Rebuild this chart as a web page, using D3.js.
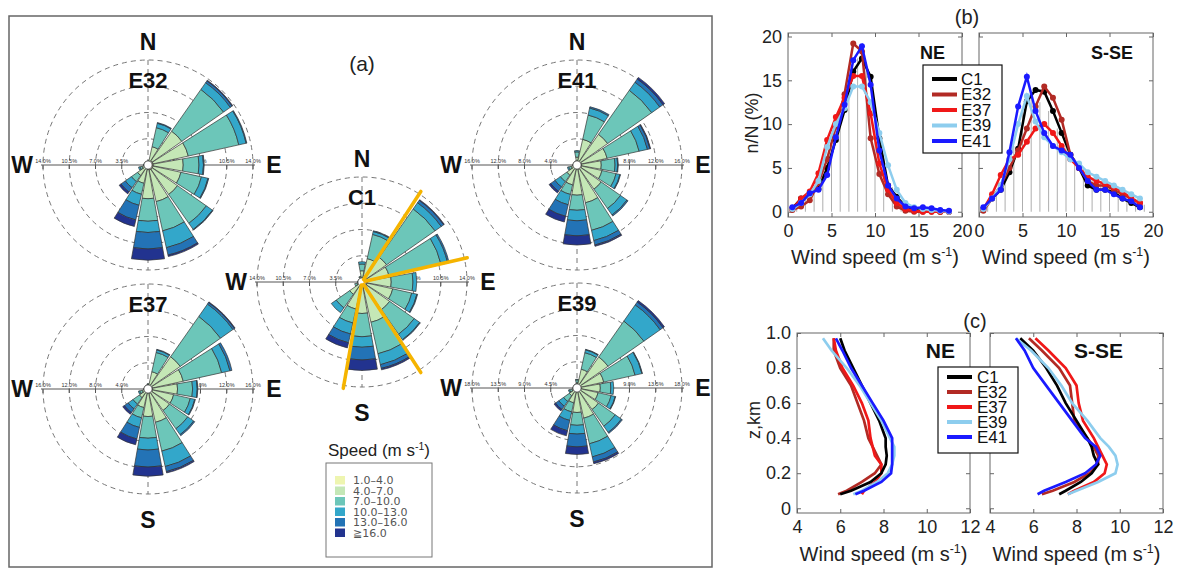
<!DOCTYPE html>
<html>
<head>
<meta charset="utf-8">
<script src="https://cdn.jsdelivr.net/npm/d3@7"></script>
<style>
  body { margin: 0; background: #fff; }
  svg { display: block; font-family: "Liberation Sans", Arial, Helvetica, sans-serif; }
</style>
</head>
<body>
<svg id="fig" width="1179" height="569"></svg>
<script>
// ---- data: wind roses (a) ----
// 16 directions, each one is [1-4, 4-7, 7-10, 10-13, 13-16, >=16] in %
var dirAngles = [0, 22.5, 45, 67.5, 90, 112.5, 135, 157.5, 180, 202.5, 225, 247.5, 270, 292.5, 315, 337.5];
var speedBins = ['1.0\u20134.0', '4.0\u20137.0', '7.0\u201310.0', '10.0\u201313.0', '13.0\u201316.0', '\u226716.0'];
var binColors = ['#eef5b0', '#c4e7b6', '#6cc6b9', '#33a7ca', '#2373b6', '#22338f'];

var roseC1 = [
  [0.5,1.0,0.9,0.3,0,0], [0.6,2.6,3.3,0.4,0.1,0], [0.7,3.3,7.9,1.0,0.4,0.1], [0.7,3.0,7.1,0.9,0.2,0],
  [0.7,3.2,2.9,0.5,0,0], [0.7,3.5,2.6,0.7,0.1,0], [0.7,3.8,4.0,0.9,0.1,0], [0.7,4.8,4.3,1.5,0.5,0.2],
  [0.6,3.6,3.1,1.4,1.7,1.4], [0.5,3.2,1.9,1.5,1.2,0.7], [0.4,1.6,2.2,0.8,0,0], [0.3,0.4,0.3,0,0,0],
  [0.2,0.3,0.1,0,0,0], [0.2,0.2,0,0,0,0], [0.2,0.2,0.1,0,0,0], [0.3,0.4,0.1,0,0,0]
];
var roseE32 = [
  [0.2,0.3,0,0,0,0], [0.5,2.0,2.6,0.6,0.1,0], [0.7,4.8,6.8,1.1,0.3,0.1], [0.7,4.8,6.9,1.0,0.1,0],
  [0.7,4.0,2.1,0.6,0.1,0], [0.7,3.8,2.8,0.9,0.1,0], [0.7,4.1,4.7,1.0,0.1,0], [0.7,4.3,4.0,2.3,1.0,0.2],
  [0.6,3.9,3.0,1.5,2.2,1.5], [0.5,2.0,1.5,1.5,2.0,0.9], [0.4,1.3,1.0,1.0,0.7,0.3], [0.3,0.5,0.3,0.2,0,0],
  [0.2,0.3,0.1,0,0,0], [0.1,0.1,0,0,0,0], [0.1,0.1,0,0,0,0], [0.1,0.2,0,0,0,0]
];
var roseE37 = [
  [0.3,0.4,0.1,0,0,0], [0.5,2.2,3.0,0.4,0.1,0], [0.7,5.3,7.5,2.3,0.3,0.1], [0.7,4.8,6.0,1.3,0.3,0],
  [0.7,3.8,2.3,0.7,0.1,0], [0.7,3.3,2.6,0.7,0.1,0], [0.7,3.3,3.4,1.1,0.2,0], [0.7,4.5,4.5,2.4,0.8,0.2],
  [0.6,3.6,3.3,1.8,2.6,1.4], [0.5,2.4,1.6,1.5,1.8,0.9], [0.4,1.2,1.2,0.9,0.7,0.3], [0.3,0.6,0.4,0.2,0,0],
  [0.2,0.3,0.1,0,0,0], [0.1,0.1,0,0,0,0], [0.1,0.1,0,0,0,0], [0.1,0.2,0.1,0,0,0]
];
var roseE41 = [
  [0.4,0.8,0.8,0.2,0,0], [0.6,3.4,3.8,1.1,0.2,0], [0.7,5.0,8.2,1.5,0.6,0.3], [0.7,4.0,5.0,1.3,0.4,0.1],
  [0.7,3.0,2.1,0.4,0.1,0], [0.7,3.2,2.2,0.6,0.1,0], [0.7,3.8,3.6,1.2,0.2,0], [0.7,5.2,4.3,1.6,0.7,0.2],
  [0.6,4.0,2.3,1.6,2.3,1.4], [0.5,2.6,1.5,1.6,1.8,0.9], [0.4,1.5,1.2,1.0,0.8,0.3], [0.3,0.6,0.4,0.2,0,0],
  [0.2,0.3,0.1,0,0,0], [0.1,0.2,0,0,0,0], [0.1,0.2,0,0,0,0], [0.2,0.3,0.1,0,0,0]
];
var roseE39 = [
  [0.3,0.6,0.5,0.1,0,0], [0.5,2.8,2.9,0.5,0.1,0], [0.7,5.8,7.5,3.4,0.6,0.3], [0.7,4.0,5.5,1.2,0.1,0],
  [0.7,3.3,1.8,0.5,0,0], [0.7,3.0,2.3,0.7,0.1,0], [0.7,3.8,3.5,1.3,0.2,0], [0.7,4.6,4.5,2.3,0.9,0.3],
  [0.6,3.6,2.2,1.5,2.2,1.3], [0.5,2.1,1.6,1.5,1.8,0.9], [0.4,1.2,1.2,1.0,0.7,0.3], [0.3,0.6,0.4,0.2,0,0],
  [0.2,0.3,0.1,0,0,0], [0.1,0.1,0,0,0,0], [0.1,0.1,0,0,0,0], [0.2,0.3,0.1,0,0,0]
];
var ringsC1 = [3.5, 7.0, 10.5, 14.0];
var ringsE32 = [3.5, 7.0, 10.5, 14.0];
var ringsE37 = [4.0, 8.0, 12.0, 16.0];
var ringsE41 = [4.0, 8.0, 12.0, 16.0];
var ringsE39 = [4.5, 9.0, 13.5, 18.0];
var sectorEdges = [33, 77, 147, 190]; // NE and S-SE sectors marked on C1

// ---- data: (b) speed distributions ----
var speedMid = [0.5,1.5,2.5,3.5,4.5,5.5,6.5,7.5,8.5,9.5,10.5,11.5,12.5,13.5,14.5,15.5,16.5,17.5,18.5];
var histX = [1,2,3,4,5,6,7,8,9,10,11,12,13,14,15,16,17,18,19];
var histNE = [0.8,1.8,2.5,4.5,7.5,11,14.5,17.5,16.5,11.5,5.5,2.8,1.2,0.5,0.4,0.3,0.2,0.1,0];
var histSE = [0.8,2,4,7.5,11.5,13.5,12.5,11.5,9.5,7.5,6,5,3.8,3.3,3,2.5,2,1.5,0.8];

var neC1  = [0.4,1.5,2.1,2.6,5.0,8.2,11.6,16.0,17.5,15.4,8.4,3.0,1.7,0.6,0.3,0.1,0.1,0,0];
var neE32 = [0.2,0.6,1.3,3.3,6.0,9.7,13.4,19.2,18.3,8.4,4.3,2.0,0.6,0.1,0,0,0,0,0];
var neE37 = [0.3,1.5,2.3,4.4,8.2,10.8,13.0,15.5,15.5,11.2,5.5,2.5,1.0,0.3,0.1,0,0,0,0];
var neE39 = [0.3,1.0,2.0,3.5,7.4,10.0,11.8,14.3,14.3,12.5,9.0,5.3,2.5,1.0,0.5,0.3,0.2,0.1,0];
var neE41 = [0.5,1.0,2.1,2.5,4.2,8.5,12.2,17.3,18.9,14.5,7.0,3.0,1.5,0.6,0.4,0.5,0.4,0.2,0.1];

var seC1  = [0.3,1.5,2.5,4.5,7.2,12.6,13.9,13.7,11.5,9.0,6.5,5.0,3.0,2.5,2.5,2.2,1.5,1.0,0.5];
var seE32 = [0.1,1.5,3.0,5.0,7.0,9.5,12.0,14.3,13.0,10.5,6.5,5.0,3.5,3.0,3.0,2.5,2.0,1.5,1.0];
var seE37 = [0.3,2.0,4.2,6.0,6.5,8.0,9.5,10.0,9.0,7.5,6.0,5.0,4.0,3.5,3.2,2.8,2.3,1.5,1.0];
var seE39 = [0.3,1.5,3.0,6.0,10.0,13.2,10.3,8.5,7.5,6.8,6.0,5.5,4.5,4.0,3.5,3.0,2.5,2.0,1.5];
var seE41 = [0.5,1.5,2.5,6.8,12.0,15.4,11.5,9.0,7.5,7.0,6.5,5.0,3.5,2.5,2.5,2.0,1.5,1.2,0.5];

// ---- data: (c) wind profiles ----
var zLevels = [0.08,0.1,0.15,0.2,0.25,0.3,0.35,0.4,0.5,0.6,0.7,0.8,0.9,0.97];
var pNeC1  = [6.0,6.5,7.4,7.9,8.1,8.15,8.1,8.1,7.8,7.4,7.0,6.6,6.2,6.0];
var pNeE32 = [5.9,6.3,7.0,7.6,7.9,7.7,7.5,7.3,7.1,6.8,6.5,6.0,5.7,5.7];
var pNeE37 = [7.0,7.1,7.6,7.9,7.9,7.6,7.5,7.4,7.3,7.0,6.6,6.1,5.8,5.7];
var pNeE39 = [6.6,7.0,7.7,8.2,8.4,8.5,8.5,8.3,7.9,7.4,6.9,6.3,5.6,5.2];
var pNeE41 = [6.7,7.1,7.9,8.35,8.4,8.4,8.4,8.4,8.0,7.5,7.0,6.5,6.1,5.8];

var pSeC1  = [7.2,7.5,8.2,8.7,9.0,8.8,8.7,8.5,8.0,7.5,7.1,6.6,6.0,5.4];
var pSeE32 = [6.4,6.9,7.9,8.6,9.0,9.0,8.8,8.5,7.9,7.8,7.7,7.2,6.4,5.8];
var pSeE37 = [7.6,7.9,8.8,9.3,9.4,9.2,9.0,8.8,8.3,8.1,8.0,7.5,6.7,6.1];
var pSeE39 = [7.6,8.0,9.0,9.8,9.9,9.8,9.5,9.1,8.5,7.8,7.3,6.7,5.9,5.2];
var pSeE41 = [6.2,6.5,7.5,8.4,8.9,9.1,8.9,8.4,7.8,7.2,6.6,6.0,5.6,5.2];

var stations = ['C1', 'E32', 'E37', 'E39', 'E41'];
var stationColors = ['#000000', '#b22a24', '#f01818', '#8dcdee', '#1a1aff'];

var svg = d3.select('#fig');
var R = 105; // outer ring radius of the roses

// helper: "... (m s-1)" with superscript
function unitText(sel, x, y, prefix, size, anchor) {
  var t = sel.append('text').attr('x', x).attr('y', y)
    .attr('text-anchor', anchor || 'middle').attr('font-size', size).attr('fill', '#222');
  t.append('tspan').text(prefix + ' (m s');
  t.append('tspan').attr('dy', -size * 0.38).attr('font-size', size * 0.62).text('-1');
  t.append('tspan').attr('dy', size * 0.38).text(')');
  return t;
}

// ---- panel (a) ----
svg.append('rect').attr('x', 9).attr('y', 16).attr('width', 703).attr('height', 551)
  .attr('fill', 'none').attr('stroke', '#666').attr('stroke-width', 1.5);

function drawRose(cx, cy, data, rings, name, marks) {
  var g = svg.append('g').attr('transform', 'translate(' + cx + ',' + cy + ')'),
      maxPct = rings[rings.length - 1],
      r = d3.scaleLinear().domain([0, maxPct]).range([0, R]),
      arc = d3.arc();

  // dashed rings + north-south line
  g.selectAll('circle.ring').data(rings).enter().append('circle')
    .attr('class', 'ring').attr('r', function(d) { return r(d); })
    .attr('fill', 'none').attr('stroke', '#777').attr('stroke-dasharray', '5,4');
  g.append('line').attr('x1', 0).attr('x2', 0).attr('y1', -R).attr('y2', R)
    .attr('stroke', '#777').attr('stroke-dasharray', '5,4');

  // horizontal axis with % labels
  g.append('line').attr('x1', -R - 2).attr('x2', R + 2).attr('y1', 0).attr('y2', 0)
    .attr('stroke', '#555').attr('stroke-width', 1);
  [-1, 1].forEach(function(side) {
    g.selectAll(null).data(rings).enter().append('line')
      .attr('x1', function(d) { return side * r(d); }).attr('x2', function(d) { return side * r(d); })
      .attr('y1', 0).attr('y2', 4).attr('stroke', '#555');
    g.selectAll(null).data(rings).enter().append('text')
      .attr('x', function(d) { return side * r(d); }).attr('y', -2)
      .attr('text-anchor', 'middle').attr('font-size', 5.5).attr('fill', '#333')
      .text(function(d) { return d.toFixed(1) + '%'; });
  });

  // stacked sectors
  data.forEach(function(bins, i) {
    var a = dirAngles[i] * Math.PI / 180, cum = 0;
    bins.forEach(function(v, b) {
      if (!v) return;
      var inner = Math.max(r(cum), 4);
      cum += v;
      g.append('path')
        .attr('d', arc({ innerRadius: inner, outerRadius: r(cum),
                         startAngle: a - 10 * Math.PI / 180, endAngle: a + 10 * Math.PI / 180 }))
        .attr('fill', binColors[b]).attr('stroke', '#333').attr('stroke-width', 0.7);
    });
  });
  g.append('circle').attr('r', 4).attr('fill', '#fff').attr('stroke', '#555').attr('stroke-width', 0.6);

  // compass letters + station name
  var big = function(x, y, t) {
    g.append('text').attr('x', x).attr('y', y).attr('text-anchor', 'middle')
      .attr('dominant-baseline', 'central').attr('font-size', 23).attr('font-weight', 'bold')
      .attr('fill', '#111').text(t);
  };
  if (marks.indexOf('N') >= 0) big(0, -123, 'N');
  if (marks.indexOf('S') >= 0) big(0, 131, 'S');
  big(-126, 0, 'W');
  big(126, 0, 'E');
  g.append('text').attr('x', 0).attr('y', -85).attr('text-anchor', 'middle')
    .attr('dominant-baseline', 'central').attr('font-size', 22).attr('font-weight', 'bold')
    .attr('fill', '#111').text(name);
  return g;
} // end of drawRose

drawRose(148, 165, roseE32, ringsE32, 'E32', 'N');
drawRose(148, 389, roseE37, ringsE37, 'E37', 'S');
drawRose(577, 165, roseE41, ringsE41, 'E41', 'N');
drawRose(577, 388, roseE39, ringsE39, 'E39', 'S');
var gC1 = drawRose(362, 282, roseC1, ringsC1, 'C1', 'NS');

// sector boundaries for NE and S-SE
gC1.selectAll('line.sector').data(sectorEdges).enter().append('line')
  .attr('class', 'sector')
  .attr('x1', function(d) { return 3 * Math.sin(d * Math.PI / 180); })
  .attr('y1', function(d) { return -3 * Math.cos(d * Math.PI / 180); })
  .attr('x2', function(d) { return 108 * Math.sin(d * Math.PI / 180); })
  .attr('y2', function(d) { return -108 * Math.cos(d * Math.PI / 180); })
  .attr('stroke', '#f5b400').attr('stroke-width', 3.5).attr('stroke-linecap', 'round');

svg.append('text').attr('x', 362).attr('y', 71).attr('text-anchor', 'middle')
  .attr('font-size', 21).attr('fill', '#222').text('(a)');

// speed legend
unitText(svg, 379, 456, 'Speed', 17);
svg.append('rect').attr('x', 326).attr('y', 463).attr('width', 106).attr('height', 94)
  .attr('fill', '#fff').attr('stroke', '#777');
var lg = svg.append('g').selectAll('g').data(speedBins).enter().append('g')
  .attr('transform', function(d, i) { return 'translate(335,' + (476 + i * 10.5) + ')'; });
lg.append('rect').attr('width', 10).attr('height', 8.5)
  .attr('fill', function(d, i) { return binColors[i]; });
lg.append('text').attr('x', 18).attr('y', 8).attr('font-size', 11)
  .attr('font-family', '"DejaVu Sans", sans-serif').attr('fill', '#555')
  .text(function(d) { return d; });
// end of panel (a)

// ---- panels (b), (c): framed axes ----
function frameAxes(x0, y0, w, h, xs, ys, xTicks, yTicks, yFmt, showY) {
  var g = svg.append('g'),
      noText = function(a) { a.select('.domain').remove(); a.selectAll('text').remove(); };
  g.append('g').attr('transform', 'translate(0,' + (y0 + h) + ')')
    .call(d3.axisBottom(xs).tickValues(xTicks).tickSizeInner(-4).tickSizeOuter(0).tickPadding(7))
    .call(function(a) { a.select('.domain').remove(); });
  g.append('g').attr('transform', 'translate(0,' + y0 + ')')
    .call(d3.axisTop(xs).tickValues(xTicks).tickSizeInner(-4).tickSizeOuter(0))
    .call(noText);
  var yl = g.append('g').attr('transform', 'translate(' + x0 + ',0)')
    .call(d3.axisLeft(ys).tickValues(yTicks).tickSizeInner(-4).tickSizeOuter(0).tickPadding(6)
      .tickFormat(yFmt))
    .call(function(a) { a.select('.domain').remove(); });
  if (!showY) yl.selectAll('text').remove();
  g.append('g').attr('transform', 'translate(' + (x0 + w) + ',0)')
    .call(d3.axisRight(ys).tickValues(yTicks).tickSizeInner(-4).tickSizeOuter(0))
    .call(noText);
  g.selectAll('.tick line').attr('stroke', '#666');
  g.selectAll('.tick text').attr('font-size', 18).attr('fill', '#222')
    .attr('font-family', '"Liberation Sans", Arial, sans-serif');
  g.append('rect').attr('x', x0).attr('y', y0).attr('width', w).attr('height', h)
    .attr('fill', 'none').attr('stroke', '#666');
  return g;
}

function legendBox(x, y, w, h, rowY, step, sw0, sw1, tx) {
  svg.append('rect').attr('x', x).attr('y', y).attr('width', w).attr('height', h)
    .attr('fill', '#fff').attr('stroke', '#111').attr('stroke-width', 1.2);
  stations.forEach(function(s, i) {
    var yy = y + rowY + i * step;
    svg.append('line').attr('x1', sw0).attr('x2', sw1).attr('y1', yy).attr('y2', yy)
      .attr('stroke', stationColors[i]).attr('stroke-width', 4);
    svg.append('text').attr('x', tx).attr('y', yy).attr('dominant-baseline', 'central')
      .attr('font-size', 17).attr('fill', '#111').text(s);
  });
}

// ---- panel (b) ----
var bTop = 33, bH = 184, bW = 174, bLefts = [788, 979];
var ybs = d3.scaleLinear().domain([-0.6, 20.4]).range([bTop + bH, bTop]);
var bSets = [
  { hist: histNE, series: [neC1, neE32, neE37, neE39, neE41], title: 'NE', tx: 945 },
  { hist: histSE, series: [seC1, seE32, seE37, seE39, seE41], title: 'S-SE', tx: 1133 }
];
bSets.forEach(function(set, k) {
  var x0 = bLefts[k],
      xs = d3.scaleLinear().domain([0, 20]).range([x0, x0 + bW]);
  frameAxes(x0, bTop, bW, bH, xs, ybs, [0, 5, 10, 15, 20], [0, 5, 10, 15, 20], d3.format('d'), k === 0);

  // gray stems
  svg.append('g').selectAll('line').data(set.hist).enter().append('line')
    .attr('x1', function(d, i) { return xs(histX[i]); }).attr('x2', function(d, i) { return xs(histX[i]); })
    .attr('y1', ybs(0)).attr('y2', function(d) { return ybs(d); })
    .attr('stroke', '#999').attr('stroke-width', 0.8);

  var line = d3.line().x(function(d, i) { return xs(speedMid[i]); }).y(function(d) { return ybs(d); });
  set.series.forEach(function(vals, s) {
    var gs = svg.append('g');
    gs.append('path').attr('d', line(vals)).attr('fill', 'none')
      .attr('stroke', stationColors[s]).attr('stroke-width', 2.5);
    gs.selectAll('circle').data(vals).enter().append('circle')
      .attr('cx', function(d, i) { return xs(speedMid[i]); }).attr('cy', function(d) { return ybs(d); })
      .attr('r', 3).attr('fill', stationColors[s]);
  });

  svg.append('text').attr('x', set.tx).attr('y', 53).attr('text-anchor', 'end')
    .attr('dominant-baseline', 'central').attr('font-size', 18).attr('font-weight', 'bold')
    .attr('fill', '#111').text(set.title);
  unitText(svg, x0 + bW / 2, 264, 'Wind speed', 20);
});
legendBox(923, 65, 79, 88, 14, 15.5, 932, 957, 961);
svg.append('text').attr('x', 967).attr('y', 24).attr('text-anchor', 'middle')
  .attr('font-size', 20).attr('fill', '#222').text('(b)');
svg.append('text').attr('transform', 'translate(758,123) rotate(-90)').attr('text-anchor', 'middle')
  .attr('font-size', 18).attr('fill', '#222').text('n/N (%)');
// end of panel (b)

// ---- panel (c) ----
var cTop = 333, cH = 180, cW = 173, cLefts = [797, 990];
var ycs = d3.scaleLinear().domain([-0.027, 1.0]).range([cTop + cH, cTop]);
var cSets = [
  { series: [pNeC1, pNeE32, pNeE37, pNeE39, pNeE41], title: 'NE', tx: 955 },
  { series: [pSeC1, pSeE32, pSeE37, pSeE39, pSeE41], title: 'S-SE', tx: 1123 }
];
cSets.forEach(function(set, k) {
  var x0 = cLefts[k],
      xs = d3.scaleLinear().domain([4, 12]).range([x0, x0 + cW]);
  frameAxes(x0, cTop, cW, cH, xs, ycs, [4, 6, 8, 10, 12], [0, 0.2, 0.4, 0.6, 0.8, 1.0],
    function(d) { return d === 0 ? '0' : d.toFixed(1); }, k === 0);

  var line = d3.line().x(function(d) { return xs(d); }).y(function(d, i) { return ycs(zLevels[i]); });
  [1, 2, 0, 3, 4].forEach(function(s) {
    svg.append('path').attr('d', line(set.series[s])).attr('fill', 'none')
      .attr('stroke', stationColors[s]).attr('stroke-width', 2.7);
  });

  svg.append('text').attr('x', set.tx).attr('y', 350).attr('text-anchor', 'end')
    .attr('dominant-baseline', 'central').attr('font-size', 21).attr('font-weight', 'bold')
    .attr('fill', '#111').text(set.title);
  unitText(svg, x0 + cW / 2, 561, 'Wind speed', 20);
});
legendBox(938, 367, 80, 86, 10, 15, 947, 972, 977);
svg.append('text').attr('x', 975).attr('y', 328).attr('text-anchor', 'middle')
  .attr('font-size', 20).attr('fill', '#222').text('(c)');
svg.append('text').attr('transform', 'translate(760,420) rotate(-90)').attr('text-anchor', 'middle')
  .attr('font-size', 18).attr('fill', '#222').text('z,km');
// end of panel (c)
</script>
</body>
</html>
